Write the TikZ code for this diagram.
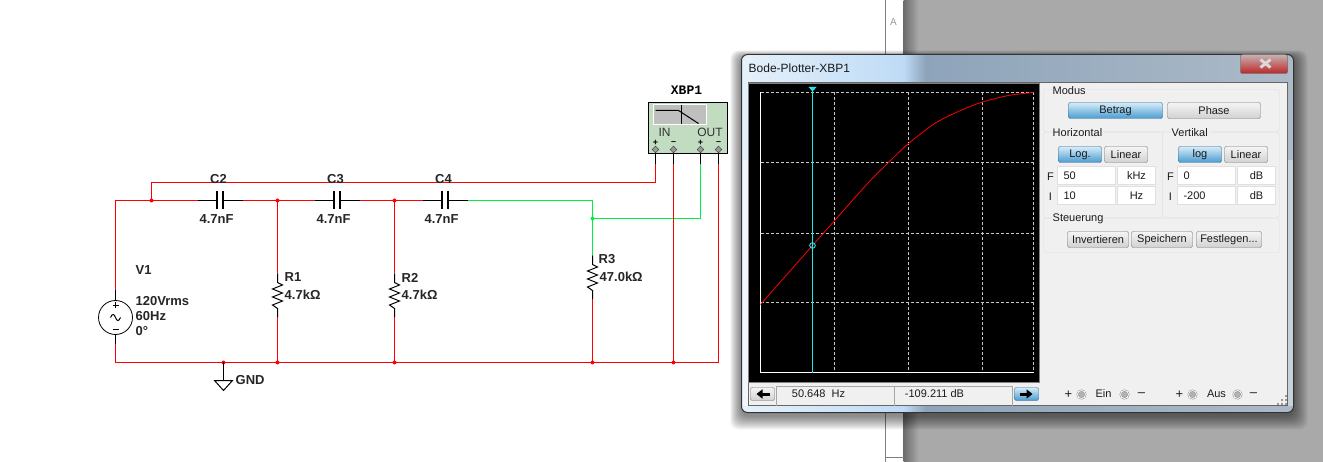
\documentclass[tikz,border=0pt]{standalone}
\usepackage{fontspec}
\setmainfont{Liberation Sans}
\setmonofont{Liberation Mono}
\usepackage{xcolor}
\usetikzlibrary{arrows.meta,positioning,shapes.geometric}
\definecolor{wirered}{HTML}{FF0000}
\definecolor{wiregreen}{HTML}{00F040}
\definecolor{xbpgreen}{HTML}{C2DCC2}
\definecolor{pagegray}{HTML}{A9A9A9}
\definecolor{glassleft}{HTML}{E6F1FA}
\definecolor{glassblue}{HTML}{BEDBF6}
\definecolor{glassgray}{HTML}{8EA4BA}
\definecolor{glassgrayb}{HTML}{ACBAC8}
\definecolor{panel}{HTML}{F0F0F0}
\definecolor{groupline}{HTML}{DADEE2}
\definecolor{btnline}{HTML}{707070}
\definecolor{hotline}{HTML}{2C628B}
\definecolor{hottop}{HTML}{D6EDF9}
\definecolor{hotmid}{HTML}{8CC8EB}
\definecolor{hotbot}{HTML}{4A9BD0}
\definecolor{cursorcyan}{HTML}{20E8F0}
\definecolor{wintext}{HTML}{1A1A1A}
\tikzset{
  capsym/.pic={
    \coordinate (-left) at (-21,0);
    \coordinate (-right) at (24,0);
    \draw[lead] (-21,0) -- (-2,0) (4,0) -- (24,0);
    \draw[line width=2pt] (-2,-9) -- (-2,9) (4,-9) -- (4,9);
  },
  ressym/.pic={
    \coordinate (-top) at (0,-22);
    \coordinate (-bot) at (0,22);
    \draw[lead] (0,-22) -- (0,-13) -- (5,-10.5) -- (-5,-6.5) -- (5,-2.5)
      -- (-5,1.5) -- (5,5.5) -- (-5,9.5) -- (0,13) -- (0,22);
  }
}
\begin{document}
\begin{tikzpicture}[
  x=1pt, y=-1pt,
  lead/.style={black, line width=1pt},
  wr/.style={wirered, line width=1.25pt},
  wg/.style={wiregreen, line width=1.25pt},
  schem/.style={font=\fontsize{13}{15}\selectfont\bfseries, text=black!85, inner sep=0pt},
  dlg/.style={font=\fontsize{11}{13}\selectfont, text=wintext, inner sep=0pt},
  btn/.style={dlg, draw=btnline, rounded corners=2pt, top color=white!96!black,
    bottom color=black!18, minimum height=16pt},
  hotbtn/.style={dlg, draw=hotline, rounded corners=2pt, top color=hottop,
    middle color=hotmid, bottom color=hotbot, minimum height=16pt},
  field/.style={dlg, draw=black!12, fill=white, minimum height=18pt},
  grp/.style={groupline, rounded corners=2pt},
  grptitle/.style={dlg, fill=panel, inner xsep=1pt, anchor=west},
  griddash/.style={white!78!black, line width=.8pt, dash pattern=on 3pt off 2pt},
  port/.style={draw=black!80, fill=black!40, diamond, inner sep=0pt, minimum size=7pt},
  knob/.style={draw=black!50, fill=black!30, circle, inner sep=0pt, minimum size=8pt,
    double=black!5, double distance=1pt}
]
  \useasboundingbox (0,0) rectangle (1323,462);
  \begin{scope}[shift={(.5,.5)}]
  % page
  \fill[white] (-1,-1) rectangle (903,462);
  \fill[pagegray] (903,-1) rectangle (1323,462);
  \shade[left color=black!58, right color=pagegray] (903,-1) rectangle (918,462);
  \draw[black!50, line width=1pt] (885,-1) -- (885,462);
  \draw[black!50, line width=1pt] (885,457) -- (903,457);
  \node[font=\fontsize{10}{12}\selectfont, text=black!40, inner sep=0pt] (colA) at (893,22) {A};

  % schematic
  \coordinate (jtop) at (151,200);
  \coordinate (j1) at (277,200);
  \coordinate (j2) at (394,200);
  \coordinate (j3) at (592,218);
  \coordinate (g0) at (223,362);
  \coordinate (g1) at (277,362);
  \coordinate (g2) at (394,362);
  \coordinate (g3) at (592,362);
  \coordinate (g4) at (673,362);
  \coordinate (g5) at (718,362);
  \coordinate (vtop) at (115,290);
  \coordinate (vbot) at (115,344);
  \coordinate (tin) at (655,164);
  \coordinate (tgnd) at (673,164);
  \coordinate (tout) at (700,164);
  \coordinate (tret) at (718,164);

  \pic (c2) at (218,200) {capsym};
  \pic (c3) at (335,200) {capsym};
  \pic (c4) at (443,200) {capsym};
  \pic (r1) at (277,295) {ressym};
  \pic (r2) at (394,295) {ressym};
  \pic (r3) at (592,277) {ressym};

  \draw[wr] (vtop) |- (c2-left);
  \draw[wr] (c2-right) -- (c3-left);
  \draw[wr] (c3-right) -- (c4-left);
  \draw[wr] (jtop) -- ++(0,-18) -| (tin);
  \draw[wg] (c4-right) -| (r3-top);
  \draw[wg] (j3) -| (tout);
  \draw[wr] (j1) -- (r1-top);
  \draw[wr] (j2) -- (r2-top);
  \draw[wr] (r1-bot) -- (g1);
  \draw[wr] (r2-bot) -- (g2);
  \draw[wr] (r3-bot) -- (g3);
  \draw[wr] (vbot) |- (g5) -- (tret);
  \draw[wr] (g4) -- (tgnd);
  \foreach \j in {jtop,j1,j2,g0,g1,g2,g3,g4}
    \fill[wirered] (\j) circle (2pt);
  \fill[wiregreen] (j3) circle (2pt);

  % source
  \node[draw=black, line width=.8pt, circle, minimum size=34pt, inner sep=0pt] (v1) at (115,317) {};
  \draw[lead] (vtop) -- (v1.north);
  \draw[lead] (v1.south) -- (vbot);
  \draw[lead] (110,317) .. controls (112,312) and (114,314) .. (115,317)
    .. controls (116,320) and (118,322) .. (120,317);
  \draw[lead, line width=.7pt] (112,305) -- (118,305) (115,302) -- (115,308) (112,329) -- (118,329);

  % ground
  \coordinate (gndtip) at (223,380);
  \draw[lead] (g0) -- (gndtip);
  \draw[lead, line join=miter] (214,380) -- (232,380) -- (223,390) -- cycle;

  \node[schem] (c2name) at (218,179) {C2};
  \node[schem] (c2val) at (216,219) {4.7nF};
  \node[schem] (c3name) at (335,179) {C3};
  \node[schem] (c3val) at (333,219) {4.7nF};
  \node[schem] (c4name) at (443,179) {C4};
  \node[schem] (c4val) at (441,219) {4.7nF};
  \node[schem, anchor=west] (v1name) at (135,270) {V1};
  \node[schem, anchor=west] (v1rms) at (135,301) {120Vrms};
  \node[schem, anchor=west] (v1hz) at (135,316) {60Hz};
  \node[schem, anchor=west] (v1deg) at (135,331) {0°};
  \node[schem, anchor=west] (r1name) at (284,277) {R1};
  \node[schem, anchor=west] (r1val) at (284,294) {4.7kΩ};
  \node[schem, anchor=west] (r2name) at (401,277) {R2};
  \node[schem, anchor=west] (r2val) at (401,294) {4.7kΩ};
  \node[schem, anchor=west] (r3name) at (598,259) {R3};
  \node[schem, anchor=west] (r3val) at (599,276) {47.0kΩ};
  \node[schem, anchor=west] (gndname) at (235,380) {GND};

  % plotter symbol
  \node[draw=black, line width=1pt, fill=xbpgreen, minimum width=79pt, minimum height=51pt, inner sep=0pt] (xbp) at (687,128) {};
  \node[font=\ttfamily\bfseries\fontsize{13}{15}\selectfont, inner sep=0pt] (xbpname) at (686,90) {XBP1};
  \node[draw=white, fill=black!25, line width=1pt, minimum width=53pt, minimum height=20pt, inner sep=0pt] (xbpscreen) at (679,114) {};
  \draw[lead] (655,110) -- (678,110) -- (698,123);
  \draw[lead] (681,104.5) -- (681,124);
  \node[font=\fontsize{12}{12}\selectfont, text=black!80, inner sep=0pt] (xbpin) at (664,132) {IN};
  \node[font=\fontsize{12}{12}\selectfont, text=black!80, inner sep=0pt] (xbpout) at (709.5,132) {OUT};
  \draw[lead] (655,149) -- (tin);
  \draw[lead] (673,149) -- (tgnd);
  \draw[lead] (700,149) -- (tout);
  \draw[lead] (718,149) -- (tret);
  \foreach \t/\x/\s in {a/655/+,b/673/-,c/700/+,d/718/-} {
    \node[font=\fontsize{9}{9}\selectfont\bfseries, inner sep=0pt] (sign\t) at (\x,142.5) {\if\s-–\else+\fi};
    \node[port] (port\t) at (\x,149) {};
  }

  % window shadow
  \foreach \s in {1,...,14}
    \fill[black, opacity=.04, rounded corners=8pt] (741-.8*\s,54-.5*\s+3) rectangle (1293+\s,412+\s+3);

  % window glass
  \begin{scope}
    \clip[rounded corners=6pt] (741,54) rectangle (1293,412);
    \shade[left color=glassleft, right color=glassblue] (741,54) rectangle (903,412);
    \shade[left color=glassblue, right color=glassgray] (903,54) rectangle (925,412);
    \shade[left color=glassgray, right color=glassgrayb] (925,54) rectangle (1293,412);
    \fill[white!75!glassblue] (741,160) rectangle (748,405);
    \fill[white!35!glassgrayb] (1287,160) rectangle (1293,405);
  \end{scope}
  \draw[black!80, line width=1pt, rounded corners=6pt] (741,54) rectangle (1293,412);
  \node[dlg, font=\fontsize{12}{14}\selectfont, anchor=west] (wintitle) at (748,68) {Bode-Plotter-XBP1};

  % close button
  \draw[black!70, top color=red!25!black!30!white, bottom color=red!70!black!85, rounded corners=2pt] (1240,54) rectangle (1287,73);
  \draw[white!85!black, line width=3pt] (1260,59) -- (1270,67) (1270,59) -- (1260,67);

  % client area
  \draw[black!60, fill=panel] (748,82) rectangle (1287,405);

  % plot
  \draw[black!50, fill=black] (748,83) rectangle (1039,382);
  \fill[black] (752,86) rectangle (1037,380);
  \foreach \x in {834,908,982,1033}
    \draw[griddash] (\x,92) -- (\x,372);
  \foreach \y in {92,162,233,302}
    \draw[griddash] (760,\y) -- (1033,\y);
  \draw[white, line width=1pt] (760,92) -- (760,372) -- (1033,372);
  \draw[red, line width=.8pt] plot[smooth] coordinates {(760,304) (812,245) (835,219)
    (868,182) (888,162) (908,143) (935,122.5) (960,110) (982,101.5) (1008,95) (1033,92)};
  \draw[cursorcyan, line width=1pt] (812,88) -- (812,372);
  \fill[cursorcyan] (808,86.5) -- (816,86.5) -- (812,91) -- cycle;
  \draw[cursorcyan, line width=.9pt] (812,245) circle (2.8pt);

  % readout row
  \node[btn, minimum width=24pt, minimum height=13pt] (back) at (762,393.5) {};
  \draw[-{Triangle[length=6pt,width=9pt]}, line width=3pt] (769,393.5) -- (756,393.5);
  \draw[black!35] (776,405) -- (776,386) -- (894,386) -- (894,405);
  \draw[black!35] (894,386) -- (1012,386) -- (1012,405);
  \node[dlg] (freq) at (818,393.5) {50.648~~Hz};
  \node[dlg] (gain) at (934,393.5) {-109.211 dB};
  \node[hotbtn, minimum width=24pt, minimum height=13pt] (fwd) at (1026,393.5) {};
  \draw[-{Triangle[length=6pt,width=9pt]}, line width=3pt] (1019,393.5) -- (1032,393.5);

  % control groups
  \draw[grp] (1043,89) rectangle (1279,131);
  \draw[grp] (1043,132) rectangle (1162,217);
  \draw[grp] (1162,132) rectangle (1279,217);
  \draw[grp] (1043,218) rectangle (1279,252);
  \node[grptitle] (modus) at (1051,90) {Modus};
  \node[grptitle] (horiz) at (1051,132) {Horizontal};
  \node[grptitle] (vert) at (1170,132) {Vertikal};
  \node[grptitle] (steuer) at (1051,218) {Steuerung};

  \node[hotbtn, minimum width=94pt] (betrag) at (1115,110) {Betrag};
  \node[btn, minimum width=93pt] (phase) at (1213.5,110) {Phase};
  \node[hotbtn, minimum width=43pt] (hlog) at (1079.5,154) {Log.};
  \node[btn, minimum width=43pt] (hlin) at (1125.5,154) {Linear};
  \node[hotbtn, minimum width=43pt] (vlog) at (1199.5,154) {log};
  \node[btn, minimum width=43pt] (vlin) at (1245.5,154) {Linear};

  \node[dlg] (hf) at (1050,176) {F};
  \node[dlg] (hi) at (1050,196) {I};
  \node[dlg] (vf) at (1170,176) {F};
  \node[dlg] (vi) at (1170,196) {I};
  \node[field, minimum width=58pt, text width=46pt] (hfval) at (1086,175) {50};
  \node[field, minimum width=38pt, align=center] (hfunit) at (1136,175) {kHz};
  \node[field, minimum width=58pt, text width=46pt] (hival) at (1086,195) {10};
  \node[field, minimum width=38pt, align=center] (hiunit) at (1136,195) {Hz};
  \node[field, minimum width=58pt, text width=46pt] (vfval) at (1206,175) {0};
  \node[field, minimum width=38pt, align=center] (vfunit) at (1256,175) {dB};
  \node[field, minimum width=58pt, text width=46pt] (vival) at (1206,195) {-200};
  \node[field, minimum width=38pt, align=center] (viunit) at (1256,195) {dB};

  \node[btn, minimum width=61pt] (invert) at (1097.5,239) {Invertieren};
  \node[btn, minimum width=61pt] (save) at (1161.5,239) {Speichern};
  \node[btn, minimum width=65pt] (fix) at (1228.5,239) {Festlegen...};

  % output terminals
  \node[dlg, font=\fontsize{13}{15}\selectfont] (einp) at (1068,394) {+};
  \node[knob] (einA) at (1081,394) {};
  \node[dlg] (ein) at (1103,393.5) {Ein};
  \node[knob] (einB) at (1124,394) {};
  \node[dlg, font=\fontsize{13}{15}\selectfont] (einm) at (1141,394) {–};
  \node[dlg, font=\fontsize{13}{15}\selectfont] (ausp) at (1179,394) {+};
  \node[knob] (ausA) at (1192,394) {};
  \node[dlg] (aus) at (1216,393.5) {Aus};
  \node[knob] (ausB) at (1237,394) {};
  \node[dlg, font=\fontsize{13}{15}\selectfont] (ausm) at (1253,394) {–};
  \foreach \x/\y in {1284/396,1284/400,1280/400,1284/404,1280/404,1276/404}
    \fill[black!40] (\x,\y) rectangle ++(2,-2);
  \end{scope}
\end{tikzpicture}
\end{document}
